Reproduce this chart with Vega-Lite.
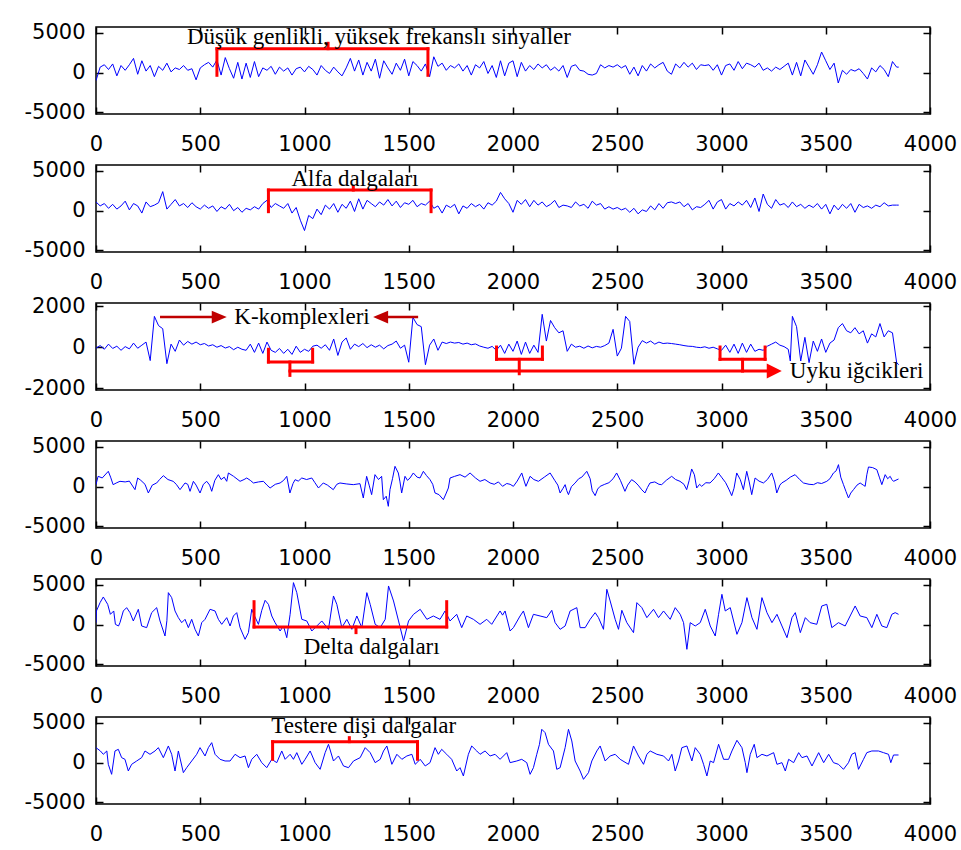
{
"$schema":"https://vega.github.io/schema/vega-lite/v6.json",
"padding":{"left":23,"top":21,"right":5,"bottom":5},
"background":"white",
"config":{"view":{"stroke":"black","strokeWidth":1.5},"numberFormat":"d",
"axis":{"domain":false,"grid":false,"tickColor":"black","tickWidth":1.5,"tickSize":-7,"labelFont":"DejaVu Sans","labelFontSize":21,"labelColor":"black","labelFlush":false,"labelOverlap":false,"labelBound":false,"labelExpr":"'' + datum.value"},
"axisX":{"labelPadding":26},"axisY":{"labelPadding":18}},
"spacing":51,
"bounds":"flush",
"datasets":{
"s1":[{"x":0,"y":-1000},{"x":20,"y":700},{"x":40,"y":1000},{"x":60,"y":400},{"x":80,"y":1100},{"x":100,"y":-400},{"x":120,"y":900},{"x":140,"y":300},{"x":160,"y":1000},{"x":180,"y":1800},{"x":200,"y":-200},{"x":220,"y":1500},{"x":240,"y":200},{"x":260,"y":900},{"x":280,"y":-500},{"x":300,"y":800},{"x":320,"y":300},{"x":340,"y":1200},{"x":360,"y":100},{"x":380,"y":600},{"x":400,"y":400},{"x":420,"y":900},{"x":440,"y":300},{"x":460,"y":500},{"x":480,"y":-900},{"x":500,"y":600},{"x":520,"y":1000},{"x":540,"y":1300},{"x":560,"y":700},{"x":580,"y":1600},{"x":600,"y":-300},{"x":620,"y":1900},{"x":640,"y":500},{"x":660,"y":-700},{"x":680,"y":1300},{"x":700,"y":-800},{"x":720,"y":1200},{"x":740,"y":-600},{"x":760,"y":1400},{"x":780,"y":-500},{"x":800,"y":600},{"x":820,"y":300},{"x":840,"y":800},{"x":860,"y":-200},{"x":880,"y":700},{"x":900,"y":200},{"x":920,"y":600},{"x":940,"y":-300},{"x":960,"y":500},{"x":980,"y":700},{"x":1000,"y":100},{"x":1020,"y":800},{"x":1040,"y":400},{"x":1060,"y":-300},{"x":1080,"y":900},{"x":1100,"y":300},{"x":1120,"y":-100},{"x":1140,"y":700},{"x":1160,"y":100},{"x":1180,"y":-400},{"x":1200,"y":600},{"x":1220,"y":1800},{"x":1240,"y":200},{"x":1260,"y":1600},{"x":1280,"y":-300},{"x":1300,"y":1300},{"x":1320,"y":200},{"x":1340,"y":1700},{"x":1360,"y":-700},{"x":1380,"y":1500},{"x":1400,"y":600},{"x":1420,"y":-200},{"x":1440,"y":1200},{"x":1460,"y":300},{"x":1480,"y":1700},{"x":1500,"y":-400},{"x":1520,"y":1400},{"x":1540,"y":900},{"x":1560,"y":200},{"x":1580,"y":1100},{"x":1600,"y":-500},{"x":1620,"y":2000},{"x":1640,"y":800},{"x":1660,"y":1200},{"x":1680,"y":300},{"x":1700,"y":900},{"x":1720,"y":600},{"x":1740,"y":1100},{"x":1760,"y":200},{"x":1780,"y":900},{"x":1800,"y":-300},{"x":1820,"y":1000},{"x":1840,"y":600},{"x":1860,"y":1400},{"x":1880,"y":-100},{"x":1900,"y":900},{"x":1920,"y":-600},{"x":1940,"y":1500},{"x":1960,"y":-400},{"x":1980,"y":1200},{"x":2000,"y":1500},{"x":2020,"y":-500},{"x":2040,"y":1300},{"x":2060,"y":200},{"x":2080,"y":900},{"x":2100,"y":400},{"x":2120,"y":1100},{"x":2140,"y":600},{"x":2160,"y":1000},{"x":2180,"y":300},{"x":2200,"y":700},{"x":2220,"y":200},{"x":2240,"y":900},{"x":2260,"y":-600},{"x":2280,"y":800},{"x":2300,"y":1000},{"x":2320,"y":300},{"x":2340,"y":200},{"x":2360,"y":-200},{"x":2380,"y":-300},{"x":2400,"y":-100},{"x":2420,"y":1000},{"x":2440,"y":600},{"x":2460,"y":900},{"x":2480,"y":700},{"x":2500,"y":1000},{"x":2520,"y":600},{"x":2540,"y":900},{"x":2560,"y":-200},{"x":2580,"y":700},{"x":2600,"y":-400},{"x":2620,"y":900},{"x":2640,"y":200},{"x":2660,"y":1100},{"x":2680,"y":600},{"x":2700,"y":1000},{"x":2720,"y":1300},{"x":2740,"y":200},{"x":2760,"y":-200},{"x":2780,"y":1100},{"x":2800,"y":600},{"x":2820,"y":1300},{"x":2840,"y":700},{"x":2860,"y":1200},{"x":2880,"y":400},{"x":2900,"y":1000},{"x":2920,"y":900},{"x":2940,"y":1000},{"x":2960,"y":300},{"x":2980,"y":1000},{"x":3000,"y":-300},{"x":3020,"y":900},{"x":3040,"y":1100},{"x":3060,"y":300},{"x":3080,"y":1400},{"x":3100,"y":500},{"x":3120,"y":1200},{"x":3140,"y":1000},{"x":3160,"y":700},{"x":3180,"y":1200},{"x":3200,"y":300},{"x":3220,"y":600},{"x":3240,"y":200},{"x":3260,"y":700},{"x":3280,"y":400},{"x":3300,"y":800},{"x":3320,"y":1200},{"x":3340,"y":-300},{"x":3360,"y":1300},{"x":3380,"y":-400},{"x":3400,"y":1600},{"x":3420,"y":700},{"x":3440,"y":-200},{"x":3460,"y":1000},{"x":3480,"y":2600},{"x":3500,"y":1500},{"x":3520,"y":400},{"x":3540,"y":1200},{"x":3560,"y":-1300},{"x":3580,"y":300},{"x":3600,"y":-200},{"x":3620,"y":400},{"x":3640,"y":200},{"x":3660,"y":500},{"x":3680,"y":-100},{"x":3700,"y":-800},{"x":3720,"y":600},{"x":3740,"y":100},{"x":3760,"y":900},{"x":3780,"y":400},{"x":3800,"y":-500},{"x":3820,"y":1400},{"x":3840,"y":700},{"x":3850,"y":700}],
"s2":[{"x":0,"y":1100},{"x":20,"y":600},{"x":40,"y":900},{"x":60,"y":300},{"x":80,"y":800},{"x":100,"y":200},{"x":120,"y":600},{"x":140,"y":1200},{"x":160,"y":100},{"x":180,"y":900},{"x":200,"y":600},{"x":220,"y":-300},{"x":240,"y":1100},{"x":260,"y":500},{"x":280,"y":700},{"x":300,"y":1000},{"x":320,"y":2400},{"x":340,"y":200},{"x":360,"y":800},{"x":380,"y":1400},{"x":400,"y":600},{"x":420,"y":900},{"x":440,"y":400},{"x":460,"y":1000},{"x":480,"y":500},{"x":500,"y":200},{"x":520,"y":700},{"x":540,"y":300},{"x":560,"y":600},{"x":580,"y":-100},{"x":600,"y":500},{"x":620,"y":200},{"x":640,"y":800},{"x":660,"y":0},{"x":680,"y":400},{"x":700,"y":-200},{"x":720,"y":300},{"x":740,"y":100},{"x":760,"y":500},{"x":780,"y":200},{"x":800,"y":900},{"x":820,"y":1300},{"x":840,"y":400},{"x":860,"y":900},{"x":880,"y":600},{"x":900,"y":300},{"x":920,"y":900},{"x":940,"y":-300},{"x":960,"y":400},{"x":980,"y":-1200},{"x":1000,"y":-2500},{"x":1020,"y":-600},{"x":1040,"y":-1000},{"x":1060,"y":200},{"x":1080,"y":-500},{"x":1100,"y":700},{"x":1120,"y":200},{"x":1140,"y":900},{"x":1160,"y":-200},{"x":1180,"y":800},{"x":1200,"y":300},{"x":1220,"y":1200},{"x":1240,"y":-100},{"x":1260,"y":1500},{"x":1280,"y":200},{"x":1300,"y":1300},{"x":1320,"y":900},{"x":1340,"y":500},{"x":1360,"y":1100},{"x":1380,"y":700},{"x":1400,"y":1400},{"x":1420,"y":600},{"x":1440,"y":1200},{"x":1460,"y":400},{"x":1480,"y":1000},{"x":1500,"y":800},{"x":1520,"y":1300},{"x":1540,"y":500},{"x":1560,"y":900},{"x":1580,"y":700},{"x":1600,"y":1200},{"x":1620,"y":300},{"x":1640,"y":600},{"x":1660,"y":-300},{"x":1680,"y":700},{"x":1700,"y":400},{"x":1720,"y":800},{"x":1740,"y":-400},{"x":1760,"y":600},{"x":1780,"y":300},{"x":1800,"y":900},{"x":1820,"y":500},{"x":1840,"y":800},{"x":1860,"y":200},{"x":1880,"y":1000},{"x":1900,"y":700},{"x":1920,"y":1200},{"x":1940,"y":2300},{"x":1960,"y":1500},{"x":1980,"y":900},{"x":2000,"y":-200},{"x":2020,"y":1300},{"x":2040,"y":800},{"x":2060,"y":1400},{"x":2080,"y":500},{"x":2100,"y":1300},{"x":2120,"y":700},{"x":2140,"y":1100},{"x":2160,"y":500},{"x":2180,"y":800},{"x":2200,"y":1300},{"x":2220,"y":400},{"x":2240,"y":700},{"x":2260,"y":600},{"x":2280,"y":400},{"x":2300,"y":1100},{"x":2320,"y":600},{"x":2340,"y":800},{"x":2360,"y":300},{"x":2380,"y":1200},{"x":2400,"y":700},{"x":2420,"y":900},{"x":2440,"y":200},{"x":2460,"y":500},{"x":2480,"y":200},{"x":2500,"y":400},{"x":2520,"y":100},{"x":2540,"y":300},{"x":2560,"y":-200},{"x":2580,"y":300},{"x":2600,"y":-400},{"x":2620,"y":100},{"x":2640,"y":-100},{"x":2660,"y":600},{"x":2680,"y":100},{"x":2700,"y":900},{"x":2720,"y":300},{"x":2740,"y":1000},{"x":2760,"y":1100},{"x":2780,"y":900},{"x":2800,"y":1100},{"x":2820,"y":500},{"x":2840,"y":900},{"x":2860,"y":100},{"x":2880,"y":500},{"x":2900,"y":400},{"x":2920,"y":800},{"x":2940,"y":1300},{"x":2960,"y":200},{"x":2980,"y":1100},{"x":3000,"y":1400},{"x":3020,"y":200},{"x":3040,"y":900},{"x":3060,"y":600},{"x":3080,"y":1100},{"x":3100,"y":700},{"x":3120,"y":1300},{"x":3140,"y":400},{"x":3160,"y":1600},{"x":3180,"y":-100},{"x":3200,"y":2100},{"x":3220,"y":800},{"x":3240,"y":300},{"x":3260,"y":1400},{"x":3280,"y":700},{"x":3300,"y":900},{"x":3320,"y":400},{"x":3340,"y":1100},{"x":3360,"y":500},{"x":3380,"y":800},{"x":3400,"y":300},{"x":3420,"y":700},{"x":3440,"y":400},{"x":3460,"y":900},{"x":3480,"y":200},{"x":3500,"y":800},{"x":3520,"y":-400},{"x":3540,"y":700},{"x":3560,"y":100},{"x":3580,"y":800},{"x":3600,"y":300},{"x":3620,"y":900},{"x":3640,"y":-200},{"x":3660,"y":800},{"x":3680,"y":400},{"x":3700,"y":600},{"x":3720,"y":300},{"x":3740,"y":700},{"x":3760,"y":500},{"x":3780,"y":1000},{"x":3800,"y":600},{"x":3820,"y":700},{"x":3840,"y":700},{"x":3850,"y":700}],
"s3":[{"x":0,"y":-50},{"x":20,"y":80},{"x":40,"y":-100},{"x":60,"y":150},{"x":80,"y":-60},{"x":100,"y":50},{"x":120,"y":-150},{"x":140,"y":30},{"x":160,"y":-80},{"x":180,"y":200},{"x":200,"y":-50},{"x":220,"y":100},{"x":240,"y":250},{"x":260,"y":-650},{"x":280,"y":1500},{"x":300,"y":1050},{"x":320,"y":900},{"x":340,"y":-800},{"x":360,"y":150},{"x":380,"y":-200},{"x":400,"y":350},{"x":420,"y":100},{"x":440,"y":280},{"x":460,"y":150},{"x":480,"y":250},{"x":500,"y":120},{"x":520,"y":180},{"x":540,"y":60},{"x":560,"y":120},{"x":580,"y":0},{"x":600,"y":80},{"x":620,"y":-40},{"x":640,"y":30},{"x":660,"y":-120},{"x":680,"y":0},{"x":700,"y":-100},{"x":720,"y":-150},{"x":740,"y":150},{"x":760,"y":-250},{"x":780,"y":200},{"x":800,"y":-300},{"x":820,"y":250},{"x":840,"y":-150},{"x":860,"y":-250},{"x":880,"y":-60},{"x":900,"y":-300},{"x":920,"y":-100},{"x":940,"y":-350},{"x":960,"y":50},{"x":980,"y":-250},{"x":1000,"y":-100},{"x":1020,"y":-200},{"x":1040,"y":50},{"x":1060,"y":100},{"x":1080,"y":-50},{"x":1100,"y":120},{"x":1120,"y":-150},{"x":1140,"y":400},{"x":1160,"y":-400},{"x":1180,"y":250},{"x":1200,"y":450},{"x":1220,"y":-100},{"x":1240,"y":150},{"x":1260,"y":30},{"x":1280,"y":180},{"x":1300,"y":-20},{"x":1320,"y":120},{"x":1340,"y":0},{"x":1360,"y":100},{"x":1380,"y":-80},{"x":1400,"y":80},{"x":1420,"y":150},{"x":1440,"y":300},{"x":1460,"y":-50},{"x":1480,"y":100},{"x":1500,"y":-730},{"x":1520,"y":1450},{"x":1540,"y":1100},{"x":1560,"y":1000},{"x":1580,"y":-850},{"x":1600,"y":100},{"x":1620,"y":400},{"x":1640,"y":-150},{"x":1660,"y":250},{"x":1680,"y":180},{"x":1700,"y":250},{"x":1720,"y":200},{"x":1740,"y":230},{"x":1760,"y":150},{"x":1780,"y":200},{"x":1800,"y":120},{"x":1820,"y":160},{"x":1840,"y":60},{"x":1860,"y":0},{"x":1880,"y":-50},{"x":1900,"y":40},{"x":1920,"y":-150},{"x":1940,"y":100},{"x":1960,"y":-300},{"x":1980,"y":150},{"x":2000,"y":-200},{"x":2020,"y":300},{"x":2040,"y":-350},{"x":2060,"y":250},{"x":2080,"y":-300},{"x":2100,"y":100},{"x":2120,"y":-250},{"x":2140,"y":1600},{"x":2160,"y":300},{"x":2180,"y":1300},{"x":2200,"y":950},{"x":2220,"y":700},{"x":2240,"y":800},{"x":2260,"y":-200},{"x":2280,"y":150},{"x":2300,"y":0},{"x":2320,"y":50},{"x":2340,"y":-50},{"x":2360,"y":60},{"x":2380,"y":-30},{"x":2400,"y":40},{"x":2420,"y":0},{"x":2440,"y":80},{"x":2460,"y":200},{"x":2480,"y":870},{"x":2500,"y":-430},{"x":2520,"y":-50},{"x":2540,"y":1500},{"x":2560,"y":1250},{"x":2580,"y":-830},{"x":2600,"y":0},{"x":2620,"y":320},{"x":2640,"y":200},{"x":2660,"y":300},{"x":2680,"y":150},{"x":2700,"y":250},{"x":2720,"y":180},{"x":2740,"y":200},{"x":2760,"y":180},{"x":2780,"y":150},{"x":2800,"y":120},{"x":2820,"y":80},{"x":2840,"y":50},{"x":2860,"y":40},{"x":2880,"y":0},{"x":2900,"y":-20},{"x":2920,"y":20},{"x":2940,"y":-50},{"x":2960,"y":0},{"x":2980,"y":-80},{"x":3000,"y":-150},{"x":3020,"y":100},{"x":3040,"y":-250},{"x":3060,"y":150},{"x":3080,"y":-300},{"x":3100,"y":200},{"x":3120,"y":-250},{"x":3140,"y":150},{"x":3160,"y":-200},{"x":3180,"y":-100},{"x":3200,"y":-150},{"x":3220,"y":50},{"x":3240,"y":150},{"x":3260,"y":250},{"x":3280,"y":100},{"x":3300,"y":30},{"x":3320,"y":-100},{"x":3330,"y":-670},{"x":3340,"y":1500},{"x":3360,"y":1000},{"x":3380,"y":-670},{"x":3400,"y":480},{"x":3420,"y":-750},{"x":3440,"y":300},{"x":3460,"y":-200},{"x":3480,"y":400},{"x":3500,"y":-250},{"x":3520,"y":200},{"x":3540,"y":350},{"x":3560,"y":950},{"x":3580,"y":1150},{"x":3600,"y":800},{"x":3620,"y":700},{"x":3640,"y":950},{"x":3660,"y":650},{"x":3680,"y":800},{"x":3700,"y":200},{"x":3720,"y":650},{"x":3740,"y":500},{"x":3760,"y":1150},{"x":3780,"y":500},{"x":3800,"y":800},{"x":3820,"y":700},{"x":3840,"y":-750},{"x":3850,"y":-850}],
"s4":[{"x":0,"y":256},{"x":10,"y":1305},{"x":30,"y":1100},{"x":59,"y":1935},{"x":70,"y":1200},{"x":82,"y":256},{"x":100,"y":500},{"x":115,"y":676},{"x":140,"y":600},{"x":160,"y":700},{"x":187,"y":-374},{"x":200,"y":1095},{"x":215,"y":800},{"x":235,"y":300},{"x":251,"y":-793},{"x":270,"y":200},{"x":291,"y":466},{"x":305,"y":900},{"x":323,"y":1389},{"x":345,"y":900},{"x":370,"y":676},{"x":385,"y":300},{"x":403,"y":-374},{"x":427,"y":466},{"x":440,"y":300},{"x":451,"y":-583},{"x":467,"y":676},{"x":480,"y":200},{"x":499,"y":-793},{"x":515,"y":300},{"x":531,"y":676},{"x":545,"y":200},{"x":555,"y":-583},{"x":570,"y":800},{"x":587,"y":1515},{"x":600,"y":900},{"x":615,"y":1200},{"x":627,"y":676},{"x":635,"y":1725},{"x":660,"y":1300},{"x":691,"y":676},{"x":710,"y":900},{"x":723,"y":1095},{"x":740,"y":800},{"x":755,"y":466},{"x":780,"y":600},{"x":803,"y":676},{"x":820,"y":200},{"x":835,"y":-164},{"x":860,"y":300},{"x":883,"y":466},{"x":900,"y":800},{"x":915,"y":1305},{"x":930,"y":-793},{"x":945,"y":400},{"x":955,"y":885},{"x":970,"y":700},{"x":987,"y":1095},{"x":1010,"y":900},{"x":1035,"y":1095},{"x":1050,"y":500},{"x":1067,"y":-164},{"x":1090,"y":466},{"x":1110,"y":200},{"x":1138,"y":-374},{"x":1155,"y":300},{"x":1170,"y":466},{"x":1200,"y":350},{"x":1234,"y":256},{"x":1266,"y":382},{"x":1282,"y":-1423},{"x":1298,"y":1305},{"x":1310,"y":200},{"x":1322,"y":-1003},{"x":1338,"y":1515},{"x":1355,"y":900},{"x":1370,"y":1305},{"x":1378,"y":-1633},{"x":1392,"y":-1200},{"x":1402,"y":-2472},{"x":1410,"y":-374},{"x":1422,"y":1000},{"x":1434,"y":2564},{"x":1450,"y":1725},{"x":1458,"y":600},{"x":1466,"y":-793},{"x":1482,"y":1305},{"x":1494,"y":800},{"x":1506,"y":1095},{"x":1522,"y":1725},{"x":1540,"y":1200},{"x":1554,"y":1095},{"x":1570,"y":1935},{"x":1585,"y":1400},{"x":1602,"y":885},{"x":1615,"y":300},{"x":1626,"y":-793},{"x":1645,"y":-1000},{"x":1666,"y":-1633},{"x":1680,"y":-800},{"x":1690,"y":-164},{"x":1698,"y":1095},{"x":1720,"y":1300},{"x":1746,"y":1515},{"x":1770,"y":1200},{"x":1794,"y":1725},{"x":1820,"y":1100},{"x":1842,"y":676},{"x":1865,"y":900},{"x":1890,"y":466},{"x":1910,"y":300},{"x":1930,"y":600},{"x":1950,"y":46},{"x":1970,"y":400},{"x":1986,"y":300},{"x":2002,"y":46},{"x":2020,"y":700},{"x":2042,"y":1725},{"x":2055,"y":600},{"x":2062,"y":46},{"x":2082,"y":1305},{"x":2100,"y":900},{"x":2122,"y":676},{"x":2150,"y":1200},{"x":2178,"y":1725},{"x":2200,"y":800},{"x":2215,"y":200},{"x":2226,"y":-793},{"x":2240,"y":-200},{"x":2250,"y":256},{"x":2258,"y":-500},{"x":2266,"y":-1003},{"x":2280,"y":0},{"x":2298,"y":466},{"x":2315,"y":1000},{"x":2330,"y":1200},{"x":2354,"y":1935},{"x":2370,"y":1000},{"x":2380,"y":-500},{"x":2394,"y":-1129},{"x":2406,"y":-300},{"x":2418,"y":46},{"x":2440,"y":300},{"x":2460,"y":500},{"x":2480,"y":1000},{"x":2497,"y":1725},{"x":2515,"y":800},{"x":2537,"y":-583},{"x":2550,"y":200},{"x":2569,"y":885},{"x":2585,"y":600},{"x":2600,"y":200},{"x":2618,"y":-400},{"x":2633,"y":-793},{"x":2645,"y":-100},{"x":2657,"y":466},{"x":2680,"y":600},{"x":2700,"y":300},{"x":2713,"y":256},{"x":2735,"y":800},{"x":2761,"y":1305},{"x":2780,"y":900},{"x":2801,"y":676},{"x":2820,"y":300},{"x":2833,"y":-374},{"x":2845,"y":800},{"x":2857,"y":2228},{"x":2870,"y":1500},{"x":2881,"y":-164},{"x":2895,"y":300},{"x":2905,"y":46},{"x":2925,"y":500},{"x":2945,"y":466},{"x":2965,"y":1000},{"x":2985,"y":1725},{"x":3000,"y":1200},{"x":3020,"y":500},{"x":3035,"y":-300},{"x":3049,"y":-1129},{"x":3060,"y":-200},{"x":3073,"y":1725},{"x":3090,"y":900},{"x":3105,"y":-374},{"x":3121,"y":1935},{"x":3133,"y":600},{"x":3145,"y":-1003},{"x":3161,"y":1095},{"x":3180,"y":700},{"x":3201,"y":466},{"x":3220,"y":900},{"x":3241,"y":1725},{"x":3255,"y":600},{"x":3265,"y":-793},{"x":3280,"y":200},{"x":3289,"y":466},{"x":3310,"y":800},{"x":3330,"y":1200},{"x":3353,"y":1515},{"x":3375,"y":900},{"x":3393,"y":466},{"x":3420,"y":300},{"x":3441,"y":256},{"x":3460,"y":500},{"x":3480,"y":400},{"x":3505,"y":676},{"x":3520,"y":1000},{"x":3537,"y":1725},{"x":3550,"y":2000},{"x":3561,"y":2774},{"x":3572,"y":1200},{"x":3585,"y":256},{"x":3597,"y":-600},{"x":3609,"y":-1423},{"x":3620,"y":-800},{"x":3633,"y":-374},{"x":3650,"y":200},{"x":3665,"y":466},{"x":3680,"y":200},{"x":3689,"y":46},{"x":3697,"y":1500},{"x":3705,"y":2480},{"x":3725,"y":2400},{"x":3745,"y":2144},{"x":3757,"y":1200},{"x":3769,"y":256},{"x":3785,"y":1515},{"x":3797,"y":1000},{"x":3809,"y":1305},{"x":3817,"y":900},{"x":3825,"y":676},{"x":3849,"y":969}],
"s5":[{"x":0,"y":256},{"x":2,"y":1725},{"x":20,"y":2800},{"x":35,"y":3487},{"x":56,"y":2564},{"x":69,"y":1305},{"x":85,"y":1725},{"x":93,"y":46},{"x":108,"y":-164},{"x":115,"y":256},{"x":131,"y":1725},{"x":147,"y":2144},{"x":163,"y":1515},{"x":179,"y":466},{"x":203,"y":1935},{"x":219,"y":-164},{"x":243,"y":-374},{"x":267,"y":1515},{"x":291,"y":2144},{"x":307,"y":466},{"x":331,"y":-1423},{"x":340,"y":500},{"x":347,"y":4033},{"x":363,"y":3404},{"x":379,"y":1725},{"x":395,"y":885},{"x":411,"y":256},{"x":427,"y":676},{"x":443,"y":-374},{"x":459,"y":676},{"x":475,"y":-583},{"x":491,"y":-1423},{"x":507,"y":256},{"x":523,"y":676},{"x":547,"y":1935},{"x":571,"y":1725},{"x":587,"y":676},{"x":603,"y":46},{"x":627,"y":885},{"x":643,"y":-164},{"x":659,"y":1095},{"x":675,"y":1515},{"x":691,"y":-374},{"x":715,"y":-1842},{"x":731,"y":-1003},{"x":747,"y":1935},{"x":762,"y":1000},{"x":779,"y":46},{"x":795,"y":1800},{"x":811,"y":3068},{"x":827,"y":2564},{"x":843,"y":1095},{"x":859,"y":256},{"x":883,"y":-793},{"x":899,"y":-164},{"x":915,"y":-1633},{"x":931,"y":1305},{"x":947,"y":5292},{"x":963,"y":4033},{"x":987,"y":676},{"x":1011,"y":466},{"x":1035,"y":-793},{"x":1059,"y":-164},{"x":1083,"y":466},{"x":1115,"y":-583},{"x":1139,"y":3614},{"x":1155,"y":2564},{"x":1179,"y":-374},{"x":1203,"y":676},{"x":1227,"y":-583},{"x":1251,"y":1095},{"x":1275,"y":-374},{"x":1299,"y":4033},{"x":1315,"y":2564},{"x":1339,"y":46},{"x":1363,"y":-374},{"x":1387,"y":676},{"x":1403,"y":4872},{"x":1427,"y":2984},{"x":1451,"y":466},{"x":1475,"y":-2052},{"x":1499,"y":466},{"x":1523,"y":1305},{"x":1555,"y":1935},{"x":1587,"y":676},{"x":1618,"y":1095},{"x":1650,"y":676},{"x":1674,"y":1725},{"x":1698,"y":466},{"x":1730,"y":1305},{"x":1754,"y":-374},{"x":1778,"y":1095},{"x":1810,"y":676},{"x":1842,"y":46},{"x":1874,"y":676},{"x":1898,"y":46},{"x":1938,"y":1725},{"x":1950,"y":1200},{"x":1962,"y":1725},{"x":1986,"y":-793},{"x":2002,"y":-374},{"x":2034,"y":1095},{"x":2050,"y":1725},{"x":2074,"y":-374},{"x":2098,"y":1305},{"x":2130,"y":1095},{"x":2162,"y":885},{"x":2186,"y":1809},{"x":2202,"y":256},{"x":2226,"y":-583},{"x":2250,"y":-164},{"x":2274,"y":1725},{"x":2306,"y":2144},{"x":2322,"y":-374},{"x":2346,"y":-374},{"x":2370,"y":676},{"x":2394,"y":1515},{"x":2410,"y":885},{"x":2434,"y":-583},{"x":2450,"y":4453},{"x":2466,"y":2984},{"x":2490,"y":676},{"x":2506,"y":-583},{"x":2522,"y":1809},{"x":2546,"y":256},{"x":2578,"y":-1003},{"x":2594,"y":2774},{"x":2618,"y":2144},{"x":2642,"y":885},{"x":2674,"y":1935},{"x":2698,"y":885},{"x":2722,"y":1725},{"x":2754,"y":676},{"x":2778,"y":2144},{"x":2802,"y":1305},{"x":2818,"y":256},{"x":2834,"y":-3101},{"x":2850,"y":256},{"x":2874,"y":-164},{"x":2898,"y":256},{"x":2922,"y":1935},{"x":2946,"y":-164},{"x":2970,"y":-1423},{"x":2986,"y":1305},{"x":3002,"y":3823},{"x":3018,"y":1725},{"x":3042,"y":2144},{"x":3074,"y":-1213},{"x":3098,"y":256},{"x":3122,"y":3404},{"x":3146,"y":885},{"x":3170,"y":-583},{"x":3194,"y":3404},{"x":3218,"y":1515},{"x":3242,"y":256},{"x":3266,"y":1305},{"x":3290,"y":-164},{"x":3314,"y":-1633},{"x":3338,"y":885},{"x":3354,"y":1515},{"x":3378,"y":-1003},{"x":3402,"y":885},{"x":3425,"y":256},{"x":3457,"y":46},{"x":3481,"y":2354},{"x":3505,"y":2564},{"x":3529,"y":-374},{"x":3561,"y":256},{"x":3593,"y":-164},{"x":3617,"y":1095},{"x":3641,"y":2354},{"x":3665,"y":1095},{"x":3697,"y":885},{"x":3721,"y":-374},{"x":3745,"y":1305},{"x":3769,"y":-164},{"x":3793,"y":-374},{"x":3817,"y":1305},{"x":3833,"y":1515},{"x":3849,"y":1305}],
"s6":[{"x":0,"y":1892},{"x":21,"y":1473},{"x":35,"y":1054},{"x":52,"y":1473},{"x":59,"y":-205},{"x":75,"y":-1464},{"x":91,"y":1473},{"x":107,"y":1683},{"x":123,"y":633},{"x":139,"y":424},{"x":155,"y":-1045},{"x":171,"y":-205},{"x":195,"y":214},{"x":219,"y":633},{"x":235,"y":1473},{"x":259,"y":1054},{"x":283,"y":1473},{"x":299,"y":1892},{"x":323,"y":633},{"x":347,"y":2103},{"x":363,"y":1054},{"x":379,"y":-1045},{"x":395,"y":1473},{"x":419,"y":-1255},{"x":435,"y":-626},{"x":459,"y":214},{"x":483,"y":1054},{"x":499,"y":1892},{"x":523,"y":844},{"x":539,"y":1892},{"x":555,"y":2522},{"x":571,"y":1054},{"x":595,"y":424},{"x":619,"y":214},{"x":643,"y":214},{"x":667,"y":1054},{"x":691,"y":633},{"x":715,"y":844},{"x":731,"y":-626},{"x":747,"y":424},{"x":771,"y":1054},{"x":795,"y":4},{"x":819,"y":-626},{"x":843,"y":424},{"x":867,"y":4},{"x":891,"y":1473},{"x":907,"y":424},{"x":931,"y":1054},{"x":947,"y":424},{"x":963,"y":1263},{"x":987,"y":-205},{"x":1003,"y":424},{"x":1027,"y":1473},{"x":1051,"y":4},{"x":1075,"y":-835},{"x":1099,"y":1263},{"x":1115,"y":2313},{"x":1139,"y":214},{"x":1163,"y":844},{"x":1187,"y":-415},{"x":1211,"y":-626},{"x":1235,"y":214},{"x":1267,"y":633},{"x":1291,"y":1892},{"x":1315,"y":1263},{"x":1339,"y":4},{"x":1363,"y":424},{"x":1379,"y":1473},{"x":1395,"y":2103},{"x":1419,"y":-205},{"x":1443,"y":1054},{"x":1467,"y":424},{"x":1491,"y":844},{"x":1515,"y":1054},{"x":1531,"y":-205},{"x":1555,"y":424},{"x":1579,"y":-415},{"x":1602,"y":4},{"x":1626,"y":1892},{"x":1642,"y":1054},{"x":1658,"y":1683},{"x":1682,"y":1054},{"x":1706,"y":424},{"x":1730,"y":-1045},{"x":1746,"y":-626},{"x":1762,"y":-1674},{"x":1786,"y":1054},{"x":1802,"y":2103},{"x":1826,"y":1473},{"x":1842,"y":1054},{"x":1866,"y":1473},{"x":1890,"y":844},{"x":1914,"y":1054},{"x":1938,"y":424},{"x":1970,"y":1263},{"x":1986,"y":4},{"x":2018,"y":214},{"x":2042,"y":424},{"x":2066,"y":4},{"x":2082,"y":-1464},{"x":2098,"y":-626},{"x":2114,"y":1054},{"x":2127,"y":2313},{"x":2138,"y":4201},{"x":2154,"y":3781},{"x":2170,"y":2313},{"x":2194,"y":1473},{"x":2210,"y":-835},{"x":2226,"y":-626},{"x":2250,"y":1892},{"x":2266,"y":4201},{"x":2282,"y":2732},{"x":2298,"y":214},{"x":2322,"y":-1045},{"x":2338,"y":-2094},{"x":2362,"y":-1255},{"x":2378,"y":214},{"x":2402,"y":1473},{"x":2418,"y":2103},{"x":2442,"y":214},{"x":2466,"y":844},{"x":2490,"y":1054},{"x":2514,"y":424},{"x":2554,"y":-205},{"x":2578,"y":2103},{"x":2602,"y":844},{"x":2626,"y":-205},{"x":2642,"y":1054},{"x":2658,"y":1473},{"x":2690,"y":1054},{"x":2722,"y":844},{"x":2746,"y":214},{"x":2762,"y":1054},{"x":2778,"y":-1045},{"x":2794,"y":214},{"x":2810,"y":1892},{"x":2834,"y":2103},{"x":2858,"y":214},{"x":2874,"y":1892},{"x":2898,"y":1054},{"x":2914,"y":-205},{"x":2930,"y":-1674},{"x":2946,"y":214},{"x":2962,"y":4},{"x":2986,"y":2313},{"x":3010,"y":424},{"x":3034,"y":424},{"x":3050,"y":1473},{"x":3074,"y":2816},{"x":3098,"y":1892},{"x":3114,"y":4},{"x":3122,"y":-1255},{"x":3138,"y":1054},{"x":3157,"y":2313},{"x":3170,"y":633},{"x":3194,"y":1054},{"x":3218,"y":844},{"x":3250,"y":1263},{"x":3266,"y":-205},{"x":3290,"y":4},{"x":3306,"y":-1045},{"x":3322,"y":424},{"x":3346,"y":4},{"x":3370,"y":1263},{"x":3386,"y":633},{"x":3410,"y":844},{"x":3434,"y":-415},{"x":3466,"y":1263},{"x":3490,"y":4},{"x":3514,"y":1054},{"x":3537,"y":4},{"x":3561,"y":-205},{"x":3585,"y":-835},{"x":3609,"y":4},{"x":3625,"y":1054},{"x":3641,"y":1263},{"x":3657,"y":-835},{"x":3681,"y":424},{"x":3697,"y":1263},{"x":3721,"y":1473},{"x":3753,"y":1473},{"x":3777,"y":1263},{"x":3801,"y":1054},{"x":3812,"y":4},{"x":3825,"y":969},{"x":3849,"y":969}],
"r1":[{"x1":580,"x2":1592,"y1":3020,"y2":3020},{"x1":580,"x2":580,"y1":3020,"y2":-330},{"x1":1592,"x2":1592,"y1":3020,"y2":-330},{"x1":1113,"x2":1113,"y1":3020,"y2":3700}],
"t1":[{"x":1357,"y":4490,"label":"Düşük genlikli, yüksek frekanslı sinyaller"}],
"r2":[{"x1":827,"x2":1607,"y1":2600,"y2":2600},{"x1":827,"x2":827,"y1":2600,"y2":-125},{"x1":1607,"x2":1607,"y1":2600,"y2":-125},{"x1":1234,"x2":1234,"y1":2600,"y2":3020}],
"t2":[{"x":1242,"y":3990,"label":"Alfa dalgaları"}],
"r3":[{"x1":827,"x2":827,"y1":-100,"y2":-720},{"x1":1039,"x2":1039,"y1":-100,"y2":-720},{"x1":827,"x2":1039,"y1":-720,"y2":-720},{"x1":930,"x2":930,"y1":-720,"y2":-1370},{"x1":930,"x2":3225,"y1":-1160,"y2":-1160},{"x1":1921,"x2":1921,"y1":10,"y2":-590},{"x1":2141,"x2":2141,"y1":10,"y2":-590},{"x1":1921,"x2":2141,"y1":-590,"y2":-590},{"x1":2030,"x2":2030,"y1":-590,"y2":-1290},{"x1":2993,"x2":2993,"y1":10,"y2":-590},{"x1":3209,"x2":3209,"y1":10,"y2":-590},{"x1":2993,"x2":3209,"y1":-590,"y2":-590},{"x1":3101,"x2":3101,"y1":-590,"y2":-1160}],
"a3":[{"x":3253,"y":-1160}],
"k3":[{"x1":307,"x2":575,"y1":1468,"y2":1468},{"x1":1545,"x2":1380,"y1":1468,"y2":1468}],
"ka3":[{"x":591,"y":1468,"dir":"right"},{"x":1365,"y":1468,"dir":"left"}],
"t3":[{"x":988,"y":1468,"label":"K-komplexleri"},{"x":3648,"y":-1157,"label":"Uyku iğcikleri"}],
"r4":[],
"r5":[{"x1":758,"x2":758,"y1":2895,"y2":-290},{"x1":758,"x2":1682,"y1":-290,"y2":-290},{"x1":1682,"x2":1682,"y1":2895,"y2":-290},{"x1":1247,"x2":1247,"y1":-290,"y2":-1000}],
"t5":[{"x":1322,"y":-2800,"label":"Delta dalgaları"}],
"r6":[{"x1":847,"x2":1542,"y1":2645,"y2":2645},{"x1":847,"x2":847,"y1":2645,"y2":430},{"x1":1542,"x2":1542,"y1":2645,"y2":430},{"x1":1215,"x2":1215,"y1":2645,"y2":3150}],
"t6":[{"x":1284,"y":4620,"label":"Testere dişi dalgalar"}]
},
"vconcat":[
{"width":834,"height":87,"resolve":{"axis":{"x":"independent","y":"independent"}},
"layer":[
{"data":{"name":"s1"},"mark":{"type":"line","color":"#0000ff","strokeWidth":1,"clip":true},
"encoding":{"x":{"field":"x","type":"quantitative","scale":{"domain":[0,4000],"nice":false,"zero":false},"axis":{"orient":"bottom","values":[0,500,1000,1500,2000,2500,3000,3500,4000],"title":null}},
"y":{"field":"y","type":"quantitative","scale":{"domain":[-5200,5750],"nice":false,"zero":false},"axis":{"orient":"left","values":[-5000,0,5000],"title":null}}}},
{"data":{"name":"r1"},"mark":{"type":"rule","color":"#ff0000","strokeWidth":3,"strokeCap":"square"},
"encoding":{"x":{"field":"x1","type":"quantitative","scale":{"domain":[0,4000],"nice":false,"zero":false},"axis":{"orient":"top","values":[0,500,1000,1500,2000,2500,3000,3500,4000],"labels":false,"title":null}},"x2":{"field":"x2"},
"y":{"field":"y1","type":"quantitative","scale":{"domain":[-5200,5750],"nice":false,"zero":false},"axis":{"orient":"right","values":[-5000,0,5000],"labels":false,"title":null}},"y2":{"field":"y2"}}},
{"data":{"name":"t1"},"mark":{"type":"text","font":"Liberation Serif","fontSize":23,"color":"black","align":"center","baseline":"middle"},
"encoding":{"x":{"field":"x","type":"quantitative","scale":{"domain":[0,4000],"nice":false,"zero":false},"axis":null},"y":{"field":"y","type":"quantitative","scale":{"domain":[-5200,5750],"nice":false,"zero":false},"axis":null},"text":{"field":"label","type":"nominal"}}}
]},
{"width":834,"height":87,"resolve":{"axis":{"x":"independent","y":"independent"}},
"layer":[
{"data":{"name":"s2"},"mark":{"type":"line","color":"#0000ff","strokeWidth":1,"clip":true},
"encoding":{"x":{"field":"x","type":"quantitative","scale":{"domain":[0,4000],"nice":false,"zero":false},"axis":{"orient":"bottom","values":[0,500,1000,1500,2000,2500,3000,3500,4000],"title":null}},
"y":{"field":"y","type":"quantitative","scale":{"domain":[-5200,5750],"nice":false,"zero":false},"axis":{"orient":"left","values":[-5000,0,5000],"title":null}}}},
{"data":{"name":"r2"},"mark":{"type":"rule","color":"#ff0000","strokeWidth":3,"strokeCap":"square"},
"encoding":{"x":{"field":"x1","type":"quantitative","scale":{"domain":[0,4000],"nice":false,"zero":false},"axis":{"orient":"top","values":[0,500,1000,1500,2000,2500,3000,3500,4000],"labels":false,"title":null}},"x2":{"field":"x2"},
"y":{"field":"y1","type":"quantitative","scale":{"domain":[-5200,5750],"nice":false,"zero":false},"axis":{"orient":"right","values":[-5000,0,5000],"labels":false,"title":null}},"y2":{"field":"y2"}}},
{"data":{"name":"t2"},"mark":{"type":"text","font":"Liberation Serif","fontSize":23,"color":"black","align":"center","baseline":"middle"},
"encoding":{"x":{"field":"x","type":"quantitative","scale":{"domain":[0,4000],"nice":false,"zero":false},"axis":null},"y":{"field":"y","type":"quantitative","scale":{"domain":[-5200,5750],"nice":false,"zero":false},"axis":null},"text":{"field":"label","type":"nominal"}}}
]},
{"width":834,"height":87,"resolve":{"axis":{"x":"independent","y":"independent"}},
"layer":[
{"data":{"name":"s3"},"mark":{"type":"line","color":"#0000ff","strokeWidth":1,"clip":true},
"encoding":{"x":{"field":"x","type":"quantitative","scale":{"domain":[0,4000],"nice":false,"zero":false},"axis":{"orient":"bottom","values":[0,500,1000,1500,2000,2500,3000,3500,4000],"title":null}},
"y":{"field":"y","type":"quantitative","scale":{"domain":[-2080,2150],"nice":false,"zero":false},"axis":{"orient":"left","values":[-2000,0,2000],"title":null}}}},
{"data":{"name":"r3"},"mark":{"type":"rule","color":"#ff0000","strokeWidth":3,"strokeCap":"square"},
"encoding":{"x":{"field":"x1","type":"quantitative","scale":{"domain":[0,4000],"nice":false,"zero":false},"axis":{"orient":"top","values":[0,500,1000,1500,2000,2500,3000,3500,4000],"labels":false,"title":null}},"x2":{"field":"x2"},
"y":{"field":"y1","type":"quantitative","scale":{"domain":[-2080,2150],"nice":false,"zero":false},"axis":{"orient":"right","values":[-2000,0,2000],"labels":false,"title":null}},"y2":{"field":"y2"}}},
{"data":{"name":"k3"},"mark":{"type":"rule","color":"#c00000","strokeWidth":2.5},
"encoding":{"x":{"field":"x1","type":"quantitative","scale":{"domain":[0,4000],"nice":false,"zero":false},"axis":null},"x2":{"field":"x2"},
"y":{"field":"y1","type":"quantitative","scale":{"domain":[-2080,2150],"nice":false,"zero":false},"axis":null},"y2":{"field":"y2"}}},
{"data":{"name":"a3"},"mark":{"type":"point","filled":true,"opacity":1,"color":"#ff0000","size":225,"shape":"M -1 -1 L 1 0 L -1 1 Z"},
"encoding":{"x":{"field":"x","type":"quantitative","scale":{"domain":[0,4000],"nice":false,"zero":false},"axis":null},"y":{"field":"y","type":"quantitative","scale":{"domain":[-2080,2150],"nice":false,"zero":false},"axis":null}}},
{"data":{"name":"ka3"},"mark":{"type":"point","filled":true,"opacity":1,"color":"#c00000","size":225},
"encoding":{"x":{"field":"x","type":"quantitative","scale":{"domain":[0,4000],"nice":false,"zero":false},"axis":null},"y":{"field":"y","type":"quantitative","scale":{"domain":[-2080,2150],"nice":false,"zero":false},"axis":null},
"shape":{"field":"dir","type":"nominal","scale":{"domain":["right","left"],"range":["M -1 -0.85 L 1 0 L -1 0.85 Z","M 1 -0.85 L -1 0 L 1 0.85 Z"]},"legend":null}}},
{"data":{"name":"t3"},"mark":{"type":"text","font":"Liberation Serif","fontSize":23,"color":"black","align":"center","baseline":"middle"},
"encoding":{"x":{"field":"x","type":"quantitative","scale":{"domain":[0,4000],"nice":false,"zero":false},"axis":null},"y":{"field":"y","type":"quantitative","scale":{"domain":[-2080,2150],"nice":false,"zero":false},"axis":null},"text":{"field":"label","type":"nominal"}}}
]},
{"width":834,"height":87,"resolve":{"axis":{"x":"independent","y":"independent"}},
"layer":[
{"data":{"name":"s4"},"mark":{"type":"line","color":"#0000ff","strokeWidth":1,"clip":true},
"encoding":{"x":{"field":"x","type":"quantitative","scale":{"domain":[0,4000],"nice":false,"zero":false},"axis":{"orient":"bottom","values":[0,500,1000,1500,2000,2500,3000,3500,4000],"title":null}},
"y":{"field":"y","type":"quantitative","scale":{"domain":[-5200,5750],"nice":false,"zero":false},"axis":{"orient":"left","values":[-5000,0,5000],"title":null}}}},
{"data":{"name":"r4"},"mark":{"type":"rule","color":"#ff0000","strokeWidth":3},
"encoding":{"x":{"field":"x1","type":"quantitative","scale":{"domain":[0,4000],"nice":false,"zero":false},"axis":{"orient":"top","values":[0,500,1000,1500,2000,2500,3000,3500,4000],"labels":false,"title":null}},"x2":{"field":"x2"},
"y":{"field":"y1","type":"quantitative","scale":{"domain":[-5200,5750],"nice":false,"zero":false},"axis":{"orient":"right","values":[-5000,0,5000],"labels":false,"title":null}},"y2":{"field":"y2"}}}
]},
{"width":834,"height":87,"resolve":{"axis":{"x":"independent","y":"independent"}},
"layer":[
{"data":{"name":"s5"},"mark":{"type":"line","color":"#0000ff","strokeWidth":1,"clip":true},
"encoding":{"x":{"field":"x","type":"quantitative","scale":{"domain":[0,4000],"nice":false,"zero":false},"axis":{"orient":"bottom","values":[0,500,1000,1500,2000,2500,3000,3500,4000],"title":null}},
"y":{"field":"y","type":"quantitative","scale":{"domain":[-5200,5750],"nice":false,"zero":false},"axis":{"orient":"left","values":[-5000,0,5000],"title":null}}}},
{"data":{"name":"r5"},"mark":{"type":"rule","color":"#ff0000","strokeWidth":3,"strokeCap":"square"},
"encoding":{"x":{"field":"x1","type":"quantitative","scale":{"domain":[0,4000],"nice":false,"zero":false},"axis":{"orient":"top","values":[0,500,1000,1500,2000,2500,3000,3500,4000],"labels":false,"title":null}},"x2":{"field":"x2"},
"y":{"field":"y1","type":"quantitative","scale":{"domain":[-5200,5750],"nice":false,"zero":false},"axis":{"orient":"right","values":[-5000,0,5000],"labels":false,"title":null}},"y2":{"field":"y2"}}},
{"data":{"name":"t5"},"mark":{"type":"text","font":"Liberation Serif","fontSize":23,"color":"black","align":"center","baseline":"middle"},
"encoding":{"x":{"field":"x","type":"quantitative","scale":{"domain":[0,4000],"nice":false,"zero":false},"axis":null},"y":{"field":"y","type":"quantitative","scale":{"domain":[-5200,5750],"nice":false,"zero":false},"axis":null},"text":{"field":"label","type":"nominal"}}}
]},
{"width":834,"height":87,"resolve":{"axis":{"x":"independent","y":"independent"}},
"layer":[
{"data":{"name":"s6"},"mark":{"type":"line","color":"#0000ff","strokeWidth":1,"clip":true},
"encoding":{"x":{"field":"x","type":"quantitative","scale":{"domain":[0,4000],"nice":false,"zero":false},"axis":{"orient":"bottom","values":[0,500,1000,1500,2000,2500,3000,3500,4000],"title":null}},
"y":{"field":"y","type":"quantitative","scale":{"domain":[-5200,5750],"nice":false,"zero":false},"axis":{"orient":"left","values":[-5000,0,5000],"title":null}}}},
{"data":{"name":"r6"},"mark":{"type":"rule","color":"#ff0000","strokeWidth":3,"strokeCap":"square"},
"encoding":{"x":{"field":"x1","type":"quantitative","scale":{"domain":[0,4000],"nice":false,"zero":false},"axis":{"orient":"top","values":[0,500,1000,1500,2000,2500,3000,3500,4000],"labels":false,"title":null}},"x2":{"field":"x2"},
"y":{"field":"y1","type":"quantitative","scale":{"domain":[-5200,5750],"nice":false,"zero":false},"axis":{"orient":"right","values":[-5000,0,5000],"labels":false,"title":null}},"y2":{"field":"y2"}}},
{"data":{"name":"t6"},"mark":{"type":"text","font":"Liberation Serif","fontSize":23,"color":"black","align":"center","baseline":"middle"},
"encoding":{"x":{"field":"x","type":"quantitative","scale":{"domain":[0,4000],"nice":false,"zero":false},"axis":null},"y":{"field":"y","type":"quantitative","scale":{"domain":[-5200,5750],"nice":false,"zero":false},"axis":null},"text":{"field":"label","type":"nominal"}}}
]}
]
}
